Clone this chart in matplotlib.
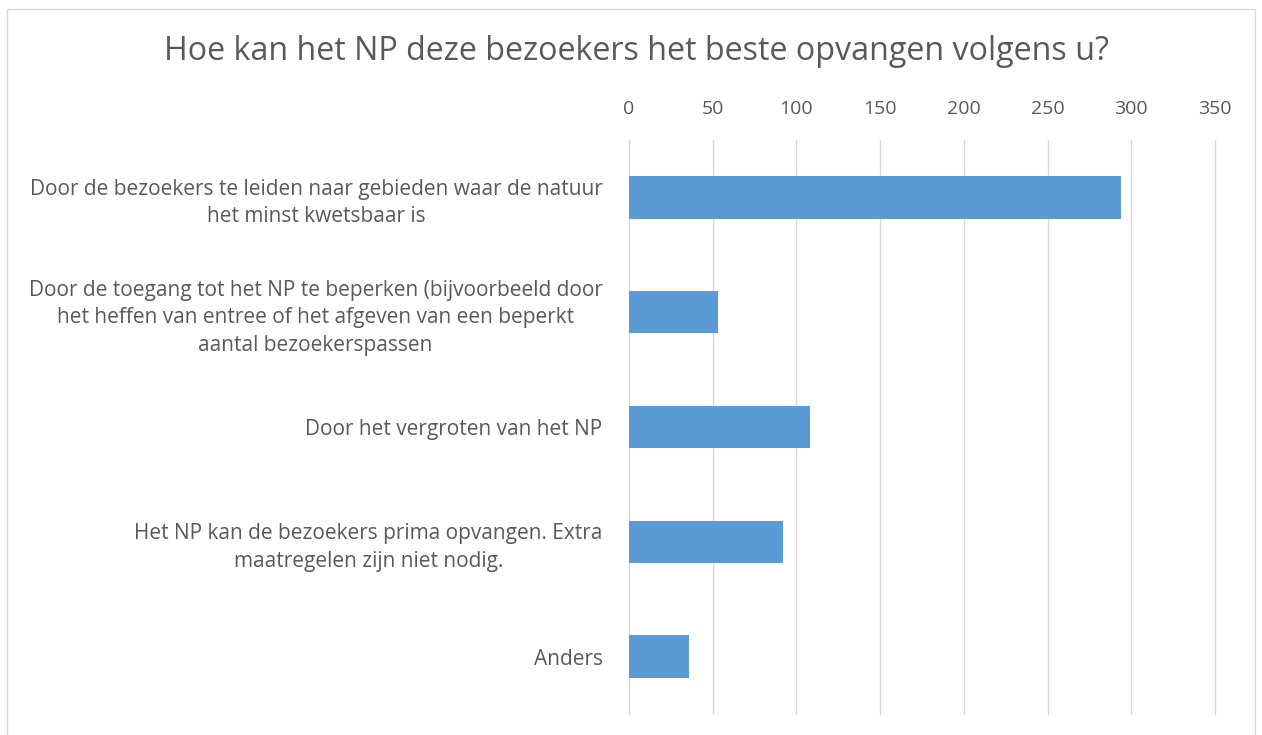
import matplotlib
matplotlib.use("Agg")
import matplotlib.pyplot as plt
from matplotlib.patches import Rectangle

title = "Hoe kan het NP deze bezoekers het beste opvangen volgens u?"
categories = [
    "Door de bezoekers te leiden naar gebieden waar de natuur\nhet minst kwetsbaar is",
    "Door de toegang tot het NP te beperken (bijvoorbeeld door\nhet heffen van entree of het afgeven van een beperkt\naantal bezoekerspassen",
    "Door het vergroten van het NP",
    "Het NP kan de bezoekers prima opvangen. Extra\nmaatregelen zijn niet nodig.",
    "Anders",
]
values = [294, 53, 108, 92, 36]
xticks = [0, 50, 100, 150, 200, 250, 300, 350]

W, H = 1262, 735
fig = plt.figure(figsize=(W / 100, H / 100), dpi=100)
fig.patch.set_facecolor("white")
font = "Open Sans"
txt = "#595959"

# chart border
fig.patches.append(Rectangle((7 / W, -0.05), (1255 - 7) / W, 1.05 - 9 / H,
                             transform=fig.transFigure, fill=False,
                             edgecolor="#d9d9d9", linewidth=1.0))

ax = fig.add_axes([629 / W, 1 - 714 / H, (1215 - 629) / W, (714 - 140) / H])
ypos = list(range(len(categories)))
ax.barh(ypos, values, height=0.37, color="#5B9BD5", zorder=3)
ax.set_ylim(len(categories) - 0.5, -0.5)
ax.set_xlim(0, 350)
ax.set_xticks(xticks)
ax.xaxis.tick_top()
ax.tick_params(axis="x", length=0, pad=16, labelsize=14, labelcolor=txt)
ax.tick_params(axis="y", length=0, pad=19)
ax.set_yticks(ypos)
ax.set_yticklabels(categories, fontsize=15, color=txt, family=font,
                   multialignment="center", linespacing=1.4)
for lab in ax.get_xticklabels():
    lab.set_family(font)
ax.grid(axis="x", color="#d9d9d9", linewidth=1.0, zorder=0)
for gl in ax.get_xgridlines():
    gl.set_clip_on(False)
for s in ax.spines.values():
    s.set_visible(False)

fig.text(637 / W, 1 - 51 / H, title, ha="center", va="center",
         fontsize=23.2, color=txt, family=font)

fig.savefig("out.png", dpi=100)
